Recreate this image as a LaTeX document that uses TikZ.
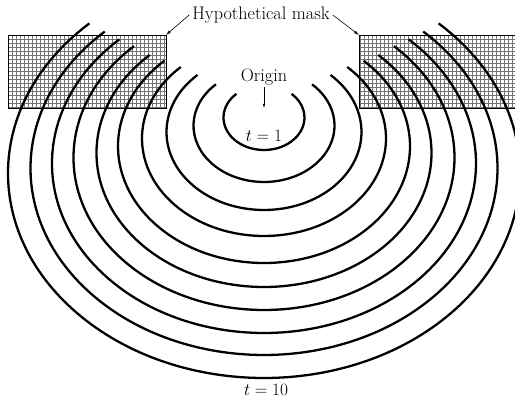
\documentclass[tikz,border=0pt]{standalone}
\usetikzlibrary{arrows.meta}
\begin{document}
\begin{tikzpicture}[x=1pt,y=1pt,
  wave/.style={line width=2.3pt,black},
  maskgrid/.style={draw=black!55,line width=0.45pt},
  maskborder/.style={draw=black,line width=0.6pt},
  lbl/.style={inner sep=0pt,font=\fontsize{18.2}{22}\selectfont},
  pointer/.style={line width=0.6pt,-{Latex[length=5pt,width=3pt]}}]
\useasboundingbox (0,0) rectangle (515,403);
\clip (0,0) rectangle (515,403);
% masks
\draw[maskgrid,step=4pt] (8,295) grid (166,368);
\draw[maskborder] (8,295) rectangle (166,368);
\draw[maskgrid,step=4pt] (359,295) grid (520,368);
\draw[maskborder] (359,295) rectangle (520,368);
\coordinate (maskL) at (166,368);
\coordinate (maskR) at (359,368);
% wavefronts
\foreach \rx/\ry/\yc in {40.5/32.4/285.4, 70.5/56.4/277.4, 97.5/78/271,
  122/97.6/264.6, 146/116.8/256.8, 167.5/134/250, 190.5/152.4/245.4,
  212/169.6/239.6, 233.5/186.8/234.8, 256/204.8/229.8}{
  \draw[wave] (264,\yc) ++(133:\rx pt and \ry pt)
    arc[start angle=133,end angle=407,x radius=\rx pt,y radius=\ry pt];
}
% labels
\node[lbl] (mask) at (261,388) {Hypothetical mask};
\node[lbl] (origin) at (264,326) {Origin};
\coordinate (o) at (264,295);
\node[lbl] (t1) at (264,267) {$t=1$};
\node[lbl] (t10) at (266,13) {$t=10$};
\draw[pointer] ([xshift=-3pt]mask.west) -- (maskL);
\draw[pointer] ([xshift=3pt]mask.east) -- (maskR);
\draw[line width=0.5pt,-{Latex[length=4pt,width=2.5pt]}] ([yshift=-2pt]origin.south) -- (o);
\end{tikzpicture}
\end{document}
